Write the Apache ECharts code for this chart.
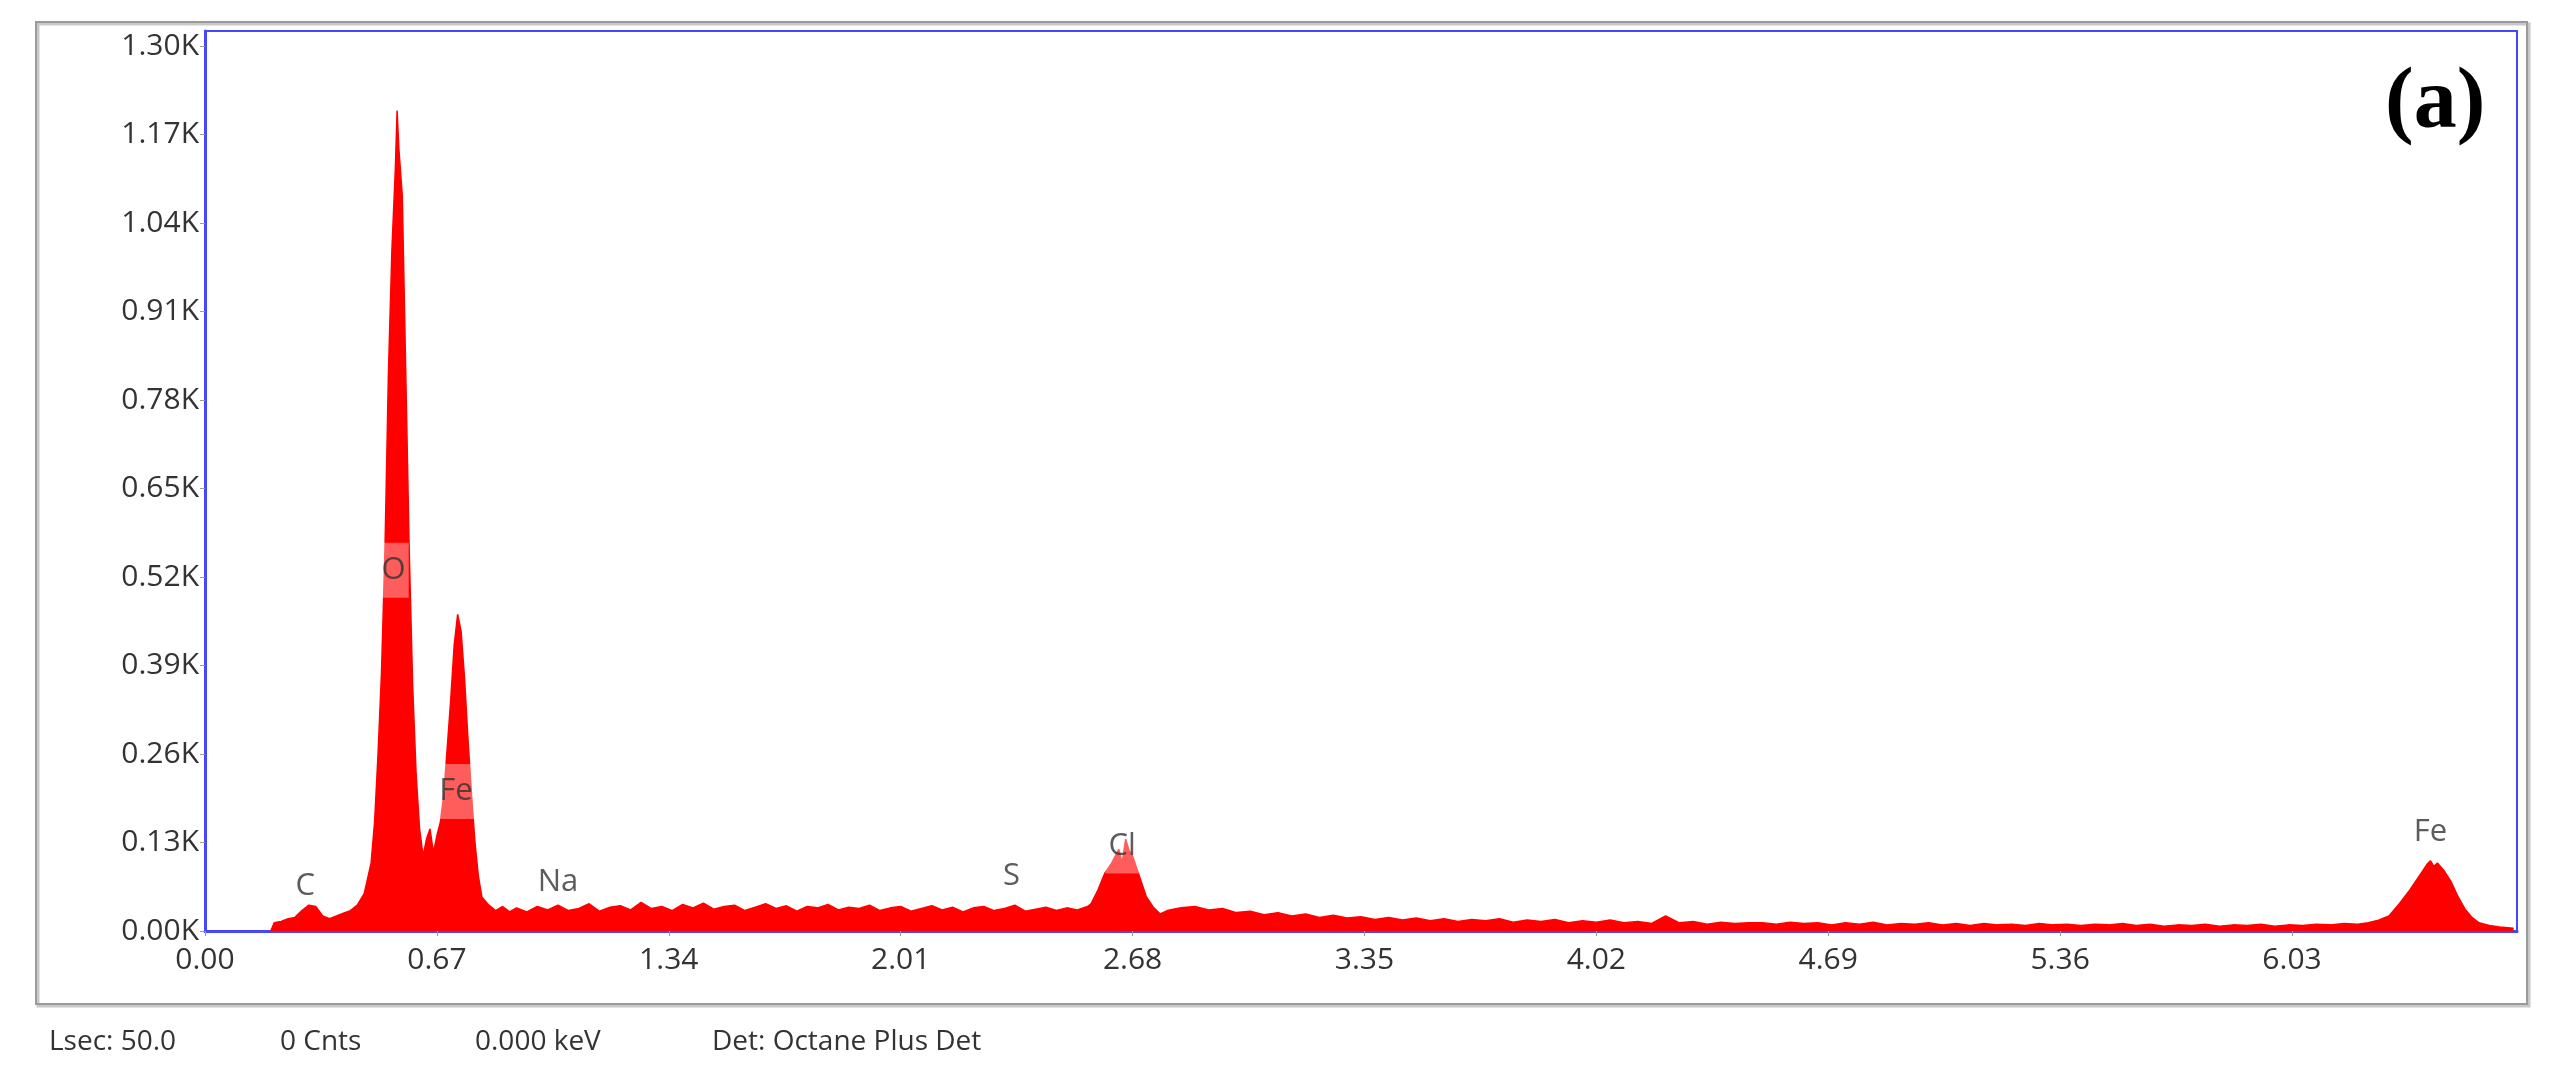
<!DOCTYPE html>
<html><head><meta charset="utf-8">
<script src="https://cdn.jsdelivr.net/npm/echarts@6/dist/echarts.min.js"></script>
<style>html,body{margin:0;padding:0;background:#fff}#c{width:2551px;height:1092px}</style>
</head><body><div id="c"></div>
<script>
// spectrum: [energy keV, counts]
const peakLow = [[0.19,0],[0.20,12],[0.22,14],[0.24,18],[0.26,20],[0.28,30],[0.30,38],[0.32,36],[0.34,22],[0.36,18],[0.38,22],[0.40,26],[0.42,30],[0.44,38],[0.46,55],[0.48,100],[0.49,160],[0.50,260],[0.51,380],[0.52,560],[0.53,820],[0.54,1000],[0.55,1120],[0.555,1205],[0.56,1150],[0.57,1080],[0.58,820],[0.59,560],[0.60,360],[0.61,230],[0.62,150],[0.63,110],[0.64,135],[0.65,150],[0.66,115],[0.67,140],[0.68,160],[0.69,200],[0.70,270],[0.71,340],[0.72,420],[0.73,465],[0.74,440],[0.75,370],[0.76,280],[0.77,200],[0.78,130],[0.79,80],[0.80,50],[0.82,38],[0.84,30],[0.86,36],[0.88,28]];
const bgStart = 0.90, bgStep = 0.03;
const bgCounts1 = [34,28,36,31,38,30,33,40,29,35,37,31,42,33,36,30,39,34,41,32,36,38,30,35,40,33,37,29,36,34,39,31,35,33,38,30,34,36,29,33,37,31,35,28,34,36,30,33,38,29,32,35,30,34,31,36];
const peakCl = [[2.56,40],[2.58,60],[2.60,85],[2.62,100],[2.64,120],[2.65,100],[2.66,135],[2.67,118],[2.68,110],[2.70,80],[2.72,50],[2.74,35],[2.76,25]];
const bgTail = [[2.78,30],[2.82,34],[2.86,36],[2.90,31],[2.94,33],[2.98,27],[3.02,29],[3.06,24],[3.10,27],[3.14,22],[3.18,25],[3.22,20],[3.26,23],[3.30,19],[3.34,21],[3.38,17],[3.42,20],[3.46,16],[3.50,19],[3.54,15],[3.58,18],[3.62,14],[3.66,17],[3.70,15],[3.74,18],[3.78,13],[3.82,16],[3.86,14],[3.90,17],[3.94,12],[3.98,15],[4.02,13],[4.06,16],[4.10,12],[4.14,14],[4.18,11],[4.22,22],[4.26,12],[4.30,14],[4.34,10],[4.38,13],[4.42,11],[4.46,12],[4.50,12],[4.54,10],[4.58,13],[4.62,11],[4.66,12],[4.70,9],[4.74,12],[4.78,10],[4.82,13],[4.86,9],[4.90,11],[4.94,10],[4.98,12],[5.02,9],[5.06,11],[5.10,8],[5.14,11],[5.18,9],[5.22,10],[5.26,8],[5.30,11],[5.34,9],[5.38,10],[5.42,8],[5.46,10],[5.50,9],[5.54,11],[5.58,8],[5.62,10],[5.66,7],[5.70,9],[5.74,8],[5.78,10],[5.82,7],[5.86,9],[5.90,8],[5.94,10],[5.98,7],[6.02,9],[6.06,8],[6.10,10],[6.14,9],[6.18,11],[6.22,10]];
const peakFeK = [[6.25,12],[6.28,16],[6.31,22],[6.34,40],[6.37,60],[6.39,75],[6.41,90],[6.42,98],[6.43,103],[6.44,95],[6.45,100],[6.47,88],[6.49,72],[6.51,50],[6.53,32],[6.55,20],[6.57,12],[6.60,8],[6.63,6],[6.67,4]];
const elemNames = ['C','O','Fe','Na','S','Cl','Fe'];
const elemX = [0.29,0.545,0.725,1.02,2.33,2.65,6.43];
const elemY = [66,530,205,72,80,125,145];
const elemBox = [false,true,true,false,false,true,false];
const yTicks = {min:0, max:1322, interval:130};
const xTicks = {min:0, max:6.68, interval:0.67};
const footer = ['Lsec: 50.0','0 Cnts','0.000 keV','Det: Octane Plus Det'];

const spectrum = [].concat(peakLow, bgCounts1.map((c,i)=>[+(bgStart+i*bgStep).toFixed(2), c]), peakCl, bgTail, peakFeK);
const F = '"Open Sans", "DejaVu Sans", sans-serif';
const chart = echarts.init(document.getElementById('c'));
chart.setOption({
  animation:false,
  grid:{left:205,right:34,top:31,bottom:161,show:true,borderColor:'#4646ff',borderWidth:2,backgroundColor:'#fff'},
  xAxis:{type:'value',min:xTicks.min,max:xTicks.max,interval:xTicks.interval,
    axisLine:{onZero:false,lineStyle:{color:'#4646ff',width:3}},
    axisTick:{show:true,length:5,lineStyle:{color:'#999'}},
    splitLine:{show:false},
    axisLabel:{showMaxLabel:false,color:'#333',fontSize:30,fontFamily:F,margin:14,formatter:v=>v.toFixed(2)}},
  yAxis:{type:'value',min:yTicks.min,max:yTicks.max,interval:yTicks.interval,
    axisLine:{show:true,lineStyle:{color:'#4646ff',width:3}},
    axisTick:{show:true,length:5,lineStyle:{color:'#999'}},
    splitLine:{show:false},
    axisLabel:{showMaxLabel:false,color:'#333',fontSize:30,fontFamily:F,margin:6,formatter:v=>(v/1000).toFixed(2)+'K'}},
  graphic:[
    {type:'rect',shape:{x:38,y:24,width:2491,height:982},style:{fill:'none',stroke:'#c8c8c8',lineWidth:3},z:-1},
    {type:'rect',shape:{x:36,y:22,width:2491,height:982},style:{fill:'none',stroke:'#9a9a9a',lineWidth:2},z:-1},
    {type:'text',left:2385,top:62,style:{text:'(a)',font:'bold 86px "Liberation Serif", "DejaVu Serif", serif',fill:'#000'}},
  ].concat(footer.map((t,i)=>({type:'text',left:[49,280,475,712][i],top:1028,style:{text:t,font:'28px '+F,fill:'#333'}}))),
  series:[
    {type:'line',data:spectrum,symbol:'none',lineStyle:{color:'#ff0000',width:1.5},areaStyle:{color:'#ff0000',opacity:1},z:2},
    {type:'scatter',symbolSize:0,z:5,
      data:elemNames.map((n,i)=>({value:[elemX[i],elemY[i]],name:n,
        label:{show:true,formatter:n,color:'#333',fontSize:31,fontFamily:F,
          backgroundColor:elemBox[i]?'rgba(255,255,255,0.45)':'transparent',padding:elemBox[i]?[12,3,12,3]:0}}))}
  ]
});
</script></body></html>
